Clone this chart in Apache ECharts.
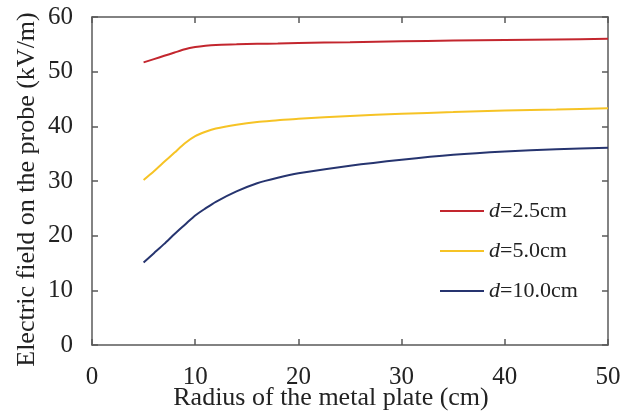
<!DOCTYPE html>
<html>
<head>
<meta charset="utf-8">
<script src="https://cdn.jsdelivr.net/npm/echarts@6/dist/echarts.min.js"></script>
<style>html,body{margin:0;padding:0;background:#fff;}#c{width:638px;height:412px;}</style>
</head>
<body>
<div id="c"></div>
<script>
var radius = [5, 6, 7, 8, 9, 10, 11, 12, 14, 16, 18, 20, 25, 30, 35, 40, 45, 50];
var fieldD25 = [51.7, 52.3, 52.9, 53.5, 54.1, 54.5, 54.75, 54.9, 55.0, 55.1, 55.15, 55.25, 55.4, 55.55, 55.7, 55.8, 55.9, 56.0];
var fieldD50 = [30.2, 31.8, 33.5, 35.2, 36.9, 38.2, 39.0, 39.6, 40.3, 40.8, 41.1, 41.4, 41.9, 42.3, 42.6, 42.9, 43.1, 43.3];
var fieldD100 = [15.1, 16.8, 18.5, 20.3, 22.0, 23.7, 25.0, 26.2, 28.1, 29.6, 30.6, 31.4, 32.8, 33.9, 34.8, 35.4, 35.8, 36.1];
var seriesNames = ['d=2.5cm', 'd=5.0cm', 'd=10.0cm'];
var xTicks = [0, 10, 20, 30, 40, 50];
var yTicks = [0, 10, 20, 30, 40, 50, 60];
var xTitle = 'Radius of the metal plate (cm)';
var yTitle = 'Electric field on the probe (kV/m)';

function pairs(xs, ys) { return xs.map(function (x, i) { return [x, ys[i]]; }); }

var font = 'Liberation Serif';
var txt = '#222';
var axisCol = '#5a5a5a';
var chart = echarts.init(document.getElementById('c'), null, {renderer: 'canvas'});
var colors = ['#c3262e', '#f6c325', '#26346f'];
var allSeries = [fieldD25, fieldD50, fieldD100].map(function (ys, i) {
  return {
    name: seriesNames[i], type: 'line', data: pairs(radius, ys),
    symbol: 'none', smooth: 0.25, xAxisIndex: 0, yAxisIndex: 0,
    lineStyle: {width: 2, color: colors[i]}, itemStyle: {color: colors[i]}
  };
});
function axisBase() {
  return {
    axisLine: {show: true, onZero: false, lineStyle: {color: axisCol, width: 1.5}},
    axisTick: {show: true, inside: true, length: 6, lineStyle: {color: axisCol, width: 1.5}},
    splitLine: {show: false}
  };
}
chart.setOption({
  animation: false,
  backgroundColor: '#fff',
  grid: {left: 92, right: 30, top: 17, bottom: 67, outerBoundsMode: 'none', containLabel: false},
  legend: {
    orient: 'vertical', left: 440, top: 200, icon: 'rect', padding: 0,
    itemWidth: 44, itemHeight: 2, itemGap: 18,
    data: seriesNames,
    formatter: function (n) { return '{i|d}' + n.slice(1); },
    textStyle: {fontFamily: font, fontSize: 22, color: txt, lineHeight: 22, padding: [0, 0, 0, 0],
      rich: {i: {fontFamily: font, fontSize: 22, fontStyle: 'italic', color: txt}}}
  },
  xAxis: [
    Object.assign(axisBase(), {type: 'value', min: 0, max: 50, interval: 10, position: 'bottom',
      name: xTitle, nameLocation: 'middle', nameGap: 40, nameMoveOverlap: false,
      nameTextStyle: {fontFamily: font, fontSize: 26, color: txt, padding: [0, 38, 0, 0]},
      axisLabel: {fontFamily: font, fontSize: 25, color: txt, margin: 20,
        formatter: function (v) { return xTicks.indexOf(v) >= 0 ? String(v) : ''; }}}),
    Object.assign(axisBase(), {type: 'value', min: 0, max: 50, interval: 10, position: 'top',
      axisLabel: {show: false}})
  ],
  yAxis: [
    Object.assign(axisBase(), {type: 'value', min: 0, max: 60, interval: 10, position: 'left',
      name: yTitle, nameLocation: 'middle', nameGap: 52, nameMoveOverlap: false,
      nameTextStyle: {fontFamily: font, fontSize: 26, color: txt, padding: [0, 0, 0, -17]},
      axisLabel: {fontFamily: font, fontSize: 25, color: txt, margin: 19,
        formatter: function (v) { return yTicks.indexOf(v) >= 0 ? String(v) : ''; }}}),
    Object.assign(axisBase(), {type: 'value', min: 0, max: 60, interval: 10, position: 'right',
      axisLabel: {show: false}})
  ],
  series: allSeries
});
</script>
</body>
</html>
